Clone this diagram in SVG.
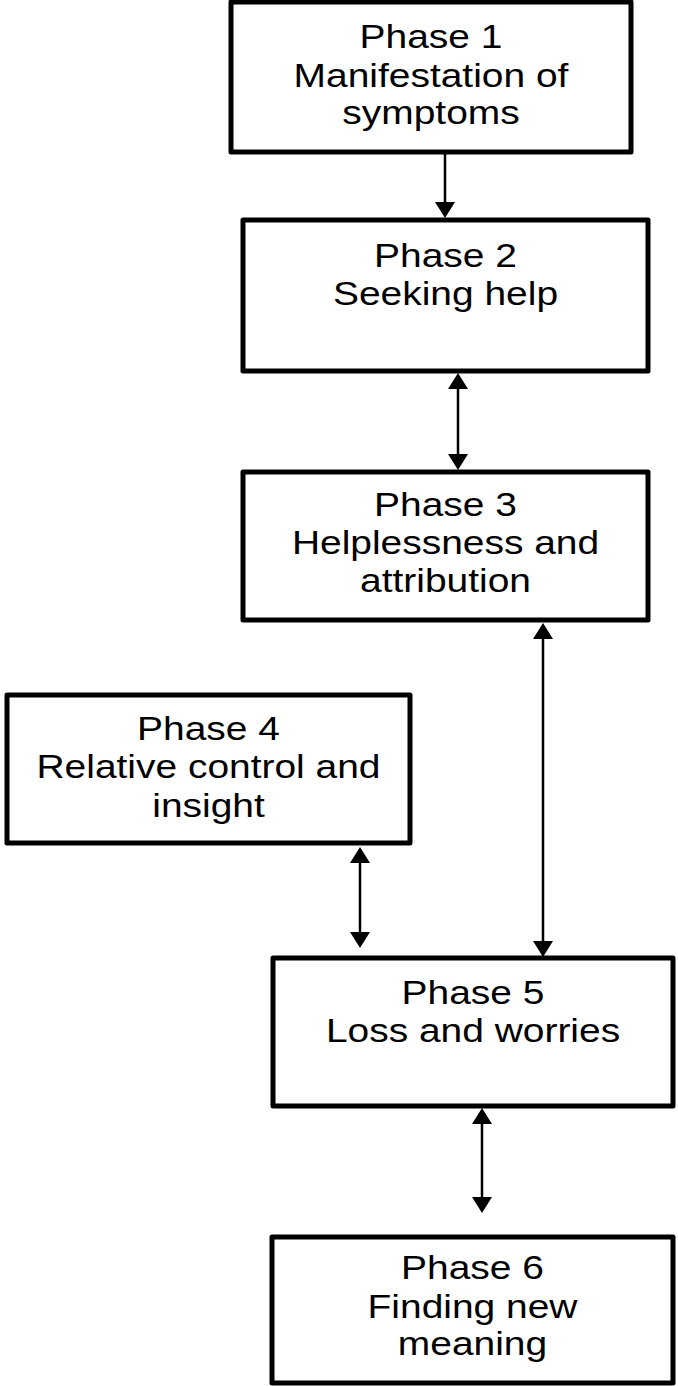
<svg xmlns="http://www.w3.org/2000/svg" width="678" height="1386" viewBox="0 0 678 1386">
  <style>
    .box { fill: #ffffff; stroke: #000000; stroke-width: 5; stroke-linejoin: round; }
    .lbl { font-family: "Liberation Sans", Arial, sans-serif; font-size: 33px; fill: #000000; text-anchor: middle; }
    .conn { stroke: #000000; stroke-width: 2.5; fill: none; }
  </style>
  <defs>
    <marker id="ah" markerUnits="userSpaceOnUse" markerWidth="16" markerHeight="20" viewBox="0 0 16 20" refX="12" refY="10" orient="auto-start-reverse">
      <path d="M0,0 L16,10 L0,20 z" fill="#000000"/>
    </marker>
  </defs>
  <rect width="678" height="1386" fill="#ffffff"/>

  <g id="connectors">
    <line class="conn" x1="445" y1="154" x2="445" y2="214" marker-end="url(#ah)"/>
    <line class="conn" x1="458" y1="377" x2="458" y2="466" marker-start="url(#ah)" marker-end="url(#ah)"/>
    <line class="conn" x1="543" y1="627" x2="543" y2="953" marker-start="url(#ah)" marker-end="url(#ah)"/>
    <line class="conn" x1="360" y1="851" x2="360" y2="944" marker-start="url(#ah)" marker-end="url(#ah)"/>
    <line class="conn" x1="482" y1="1112" x2="482" y2="1209" marker-start="url(#ah)" marker-end="url(#ah)"/>
  </g>

  <g id="phase1">
    <rect class="box" x="231" y="2" width="400" height="150"/>
    <g class="lbl" transform="translate(431,0) scale(1.18,1)">
      <text x="0" y="48">Phase 1</text>
      <text x="0" y="87">Manifestation of</text>
      <text x="0" y="124">symptoms</text>
    </g>
  </g>

  <g id="phase2">
    <rect class="box" x="243" y="220" width="405" height="151"/>
    <g class="lbl" transform="translate(445.5,0) scale(1.18,1)">
      <text x="0" y="267">Phase 2</text>
      <text x="0" y="305">Seeking help</text>
    </g>
  </g>

  <g id="phase3">
    <rect class="box" x="243" y="472" width="405" height="148"/>
    <g class="lbl" transform="translate(445.5,0) scale(1.18,1)">
      <text x="0" y="516">Phase 3</text>
      <text x="0" y="554">Helplessness and</text>
      <text x="0" y="592">attribution</text>
    </g>
  </g>

  <g id="phase4">
    <rect class="box" x="7" y="695" width="403" height="148"/>
    <g class="lbl" transform="translate(208.5,0) scale(1.18,1)">
      <text x="0" y="740">Phase 4</text>
      <text x="0" y="778">Relative control and</text>
      <text x="0" y="817">insight</text>
    </g>
  </g>

  <g id="phase5">
    <rect class="box" x="273" y="958" width="400" height="148"/>
    <g class="lbl" transform="translate(473,0) scale(1.18,1)">
      <text x="0" y="1004">Phase 5</text>
      <text x="0" y="1042">Loss and worries</text>
    </g>
  </g>

  <g id="phase6">
    <rect class="box" x="272" y="1237" width="401" height="146"/>
    <g class="lbl" transform="translate(472.5,0) scale(1.18,1)">
      <text x="0" y="1279">Phase 6</text>
      <text x="0" y="1318">Finding new</text>
      <text x="0" y="1355">meaning</text>
    </g>
  </g>
</svg>
